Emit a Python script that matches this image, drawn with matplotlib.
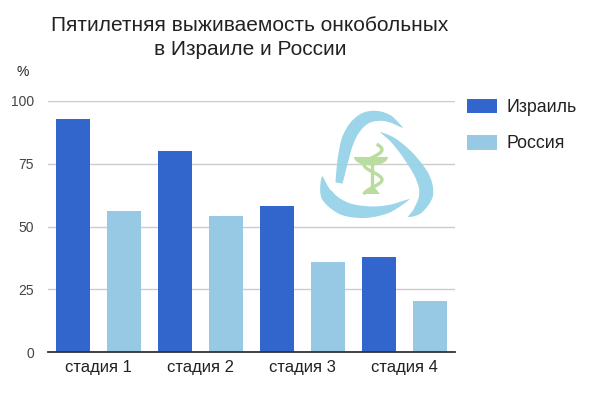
import numpy as np
import matplotlib
matplotlib.use("Agg")
import matplotlib.pyplot as plt
from matplotlib.patches import Polygon

plt.rcParams['font.family'] = ['Liberation Sans', 'DejaVu Sans']

stages = ["стадия 1", "стадия 2", "стадия 3", "стадия 4"]
israel = [93, 80, 58, 38]
russia = [56, 54, 36, 20.5]
series_names = ["Израиль", "Россия"]
yticks = [0, 25, 50, 75, 100]
title = "Пятилетняя выживаемость онкобольных\nв Израиле и России"

W, H = 596, 397
fig = plt.figure(figsize=(W / 100, H / 100), dpi=100)

def px_axes(x0, y0, x1, y1):
    return [x0 / W, 1 - y1 / H, (x1 - x0) / W, (y1 - y0) / H]

ax = fig.add_axes(px_axes(48, 101, 455, 352))
x = np.arange(len(stages))
bw = 0.334
ax.bar(x - 0.25, israel, bw, color='#3366cc', label=series_names[0], zorder=2)
ax.bar(x + 0.25, russia, bw, color='#97c9e4', label=series_names[1], zorder=2)
ax.set_xlim(-0.5, 3.5)
ax.set_ylim(0, 100)
ax.set_yticks(yticks)
ax.set_xticks(x)
ax.set_xticklabels(stages, fontsize=12, color='#222222')
ax.tick_params(axis='x', length=0, pad=6)
ax.tick_params(axis='y', length=0, pad=10, labelsize=10, labelcolor='#444444')
ax.grid(axis='y', color='#cccccc', linewidth=1, zorder=0)
ax.set_axisbelow(True)
for s in ['top', 'right', 'left']:
    ax.spines[s].set_visible(False)
ax.spines['bottom'].set_color('#333333')
ax.spines['bottom'].set_linewidth(1.3)
ax.spines['bottom'].set_zorder(3)

leg = ax.legend(loc='upper left', bbox_to_anchor=(467 / W, 1 - 98.5 / H),
                bbox_transform=fig.transFigure, frameon=False, fontsize=12.8,
                handlelength=1.7, handleheight=0.92, handletextpad=0.5,
                labelspacing=1.05, borderpad=0, borderaxespad=0)
for t in leg.get_texts():
    t.set_color('#222222')

fig.text(250 / W, 1 - 37.5 / H, title, ha='center', va='center',
         fontsize=15, color='#222222', linespacing=1.3)
fig.text(23 / W, 1 - 72 / H, "%", ha='center', va='center', fontsize=10, color='#222222')

# decorative logo
lx = fig.add_axes(px_axes(310, 100, 445, 225))
lx.set_xlim(310, 445)
lx.set_ylim(225, 100)
lx.axis('off')
lx.patch.set_alpha(0)

def catmull(pts, n=20):
    pts = np.asarray(pts, float)
    p = np.vstack([pts[0], pts, pts[-1]])
    out = []
    for i in range(1, len(p) - 2):
        t = np.linspace(0, 1, n, endpoint=False)[:, None]
        p0, p1, p2, p3 = p[i - 1], p[i], p[i + 1], p[i + 2]
        out.append(0.5 * ((2 * p1) + (-p0 + p2) * t + (2 * p0 - 5 * p1 + 4 * p2 - p3) * t ** 2
                          + (-p0 + 3 * p1 - 3 * p2 + p3) * t ** 3))
    out.append(pts[-1][None, :])
    return np.vstack(out)

def swoosh(center, widths, color='#97d3e8'):
    c = catmull(center)
    s = np.linspace(0, 1, len(c))
    w = np.interp(s, np.linspace(0, 1, len(widths)), widths)
    d = np.gradient(c, axis=0)
    nrm = np.column_stack([-d[:, 1], d[:, 0]])
    nrm /= np.linalg.norm(nrm, axis=1)[:, None]
    a = c + nrm * w[:, None] / 2
    b = c - nrm * w[:, None] / 2
    lx.add_patch(Polygon(np.vstack([a, b[::-1]]), closed=True, color=color, alpha=0.95, lw=0))

swoosh([(339, 183), (343, 160), (348, 140), (356, 126), (366, 118), (378, 116), (390, 119), (403, 128)],
       [7, 11, 13, 13, 12, 10, 7, 0])
swoosh([(380, 132), (394, 141), (410, 158), (423, 178), (426, 195), (418, 210), (408, 217)],
       [0, 6, 11, 14, 14, 9, 0])
swoosh([(322, 176), (327, 195), (343, 208), (365, 212), (388, 209), (410, 199)],
       [0, 13, 14, 12, 8, 0])

g = '#b9dca0'
tt = np.linspace(0, np.pi, 40)
cup = np.column_stack([371 + 17 * np.cos(tt), 157 + 8.5 * np.sin(tt)])
lx.add_patch(Polygon(cup, closed=True, color=g, lw=0))
lx.plot([372, 372], [164, 190], color=g, lw=2.4)
lx.add_patch(Polygon([(364, 194), (380, 194), (375, 188), (369, 188)], closed=True, color=g, lw=0))
s = np.linspace(0, 1, 60)
sx = 373 + 9 * np.sin(s * 3.2 * np.pi + 0.6)
sy = 145 + s * 48
lx.plot(sx, sy, color=g, lw=2.4)

fig.savefig('out.png', dpi=100, facecolor='white')
